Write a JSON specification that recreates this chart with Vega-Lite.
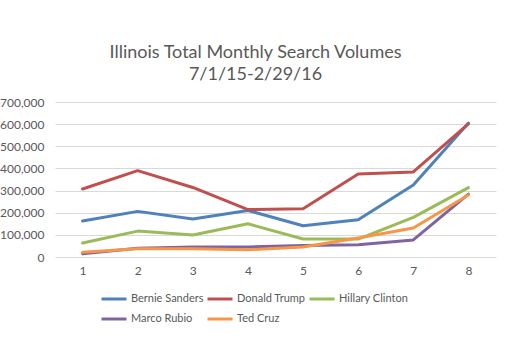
{
  "$schema": "https://vega.github.io/schema/vega-lite/v6.json",
  "width": 441,
  "height": 155,
  "autosize": "none",
  "padding": {"left": 55, "top": 102, "right": 21, "bottom": 106},
  "background": "white",
  "title": {
    "text": ["Illinois Total Monthly Search Volumes", "7/1/15-2/29/16"],
    "font": "Lato",
    "fontSize": 18,
    "fontWeight": "normal",
    "color": "#595959",
    "anchor": "middle",
    "frame": "group",
    "lineHeight": 22,
    "offset": 12,
    "dx": -20
  },
  "data": {
    "values": [
      {"period": 1, "candidate": "Bernie Sanders", "volume": 163000},
      {"period": 2, "candidate": "Bernie Sanders", "volume": 206000},
      {"period": 3, "candidate": "Bernie Sanders", "volume": 172000},
      {"period": 4, "candidate": "Bernie Sanders", "volume": 210000},
      {"period": 5, "candidate": "Bernie Sanders", "volume": 141000},
      {"period": 6, "candidate": "Bernie Sanders", "volume": 168000},
      {"period": 7, "candidate": "Bernie Sanders", "volume": 325000},
      {"period": 8, "candidate": "Bernie Sanders", "volume": 605000},
      {"period": 1, "candidate": "Donald Trump", "volume": 307000},
      {"period": 2, "candidate": "Donald Trump", "volume": 390000},
      {"period": 3, "candidate": "Donald Trump", "volume": 314000},
      {"period": 4, "candidate": "Donald Trump", "volume": 214000},
      {"period": 5, "candidate": "Donald Trump", "volume": 218000},
      {"period": 6, "candidate": "Donald Trump", "volume": 375000},
      {"period": 7, "candidate": "Donald Trump", "volume": 384000},
      {"period": 8, "candidate": "Donald Trump", "volume": 601000},
      {"period": 1, "candidate": "Hillary Clinton", "volume": 63000},
      {"period": 2, "candidate": "Hillary Clinton", "volume": 117000},
      {"period": 3, "candidate": "Hillary Clinton", "volume": 99000},
      {"period": 4, "candidate": "Hillary Clinton", "volume": 150000},
      {"period": 5, "candidate": "Hillary Clinton", "volume": 81000},
      {"period": 6, "candidate": "Hillary Clinton", "volume": 81000},
      {"period": 7, "candidate": "Hillary Clinton", "volume": 179000},
      {"period": 8, "candidate": "Hillary Clinton", "volume": 313000},
      {"period": 1, "candidate": "Marco Rubio", "volume": 15000},
      {"period": 2, "candidate": "Marco Rubio", "volume": 40000},
      {"period": 3, "candidate": "Marco Rubio", "volume": 45000},
      {"period": 4, "candidate": "Marco Rubio", "volume": 45000},
      {"period": 5, "candidate": "Marco Rubio", "volume": 52000},
      {"period": 6, "candidate": "Marco Rubio", "volume": 55000},
      {"period": 7, "candidate": "Marco Rubio", "volume": 77000},
      {"period": 8, "candidate": "Marco Rubio", "volume": 284000},
      {"period": 1, "candidate": "Ted Cruz", "volume": 21000},
      {"period": 2, "candidate": "Ted Cruz", "volume": 37000},
      {"period": 3, "candidate": "Ted Cruz", "volume": 37000},
      {"period": 4, "candidate": "Ted Cruz", "volume": 33000},
      {"period": 5, "candidate": "Ted Cruz", "volume": 45000},
      {"period": 6, "candidate": "Ted Cruz", "volume": 86000},
      {"period": 7, "candidate": "Ted Cruz", "volume": 131000},
      {"period": 8, "candidate": "Ted Cruz", "volume": 280000}
    ]
  },
  "mark": {"type": "line", "strokeWidth": 3, "strokeCap": "round", "strokeJoin": "round"},
  "encoding": {
    "x": {
      "field": "period",
      "type": "ordinal",
      "scale": {"type": "point", "padding": 0.5},
      "axis": {
        "title": null,
        "labelAngle": 0,
        "labelFont": "Lato",
        "labelFontSize": 12,
        "labelColor": "#595959",
        "ticks": false,
        "domain": false,
        "labelPadding": 8
      }
    },
    "y": {
      "field": "volume",
      "type": "quantitative",
      "scale": {"domain": [0, 700000], "nice": false},
      "axis": {
        "title": null,
        "values": [0, 100000, 200000, 300000, 400000, 500000, 600000, 700000],
        "format": ",d",
        "labelFont": "Lato",
        "labelFontSize": 12,
        "labelColor": "#595959",
        "ticks": false,
        "domain": false,
        "gridColor": "#d9d9d9",
        "gridWidth": 1,
        "labelPadding": 11
      }
    },
    "color": {
      "field": "candidate",
      "type": "nominal",
      "scale": {
        "domain": ["Bernie Sanders", "Donald Trump", "Hillary Clinton", "Marco Rubio", "Ted Cruz"],
        "range": ["#4F81BD", "#C0504D", "#9BBB59", "#8064A2", "#F79646"]
      },
      "legend": {
        "title": null,
        "orient": "none",
        "legendX": 45,
        "legendY": 183,
        "direction": "horizontal",
        "columns": 3,
        "symbolType": "stroke",
        "symbolStrokeWidth": 3,
        "symbolSize": 625,
        "labelFont": "Lato",
        "labelFontSize": 11,
        "labelColor": "#595959",
        "labelOffset": 3,
        "columnPadding": -3,
        "rowPadding": 0
      }
    }
  },
  "config": {"view": {"stroke": null}}
}
